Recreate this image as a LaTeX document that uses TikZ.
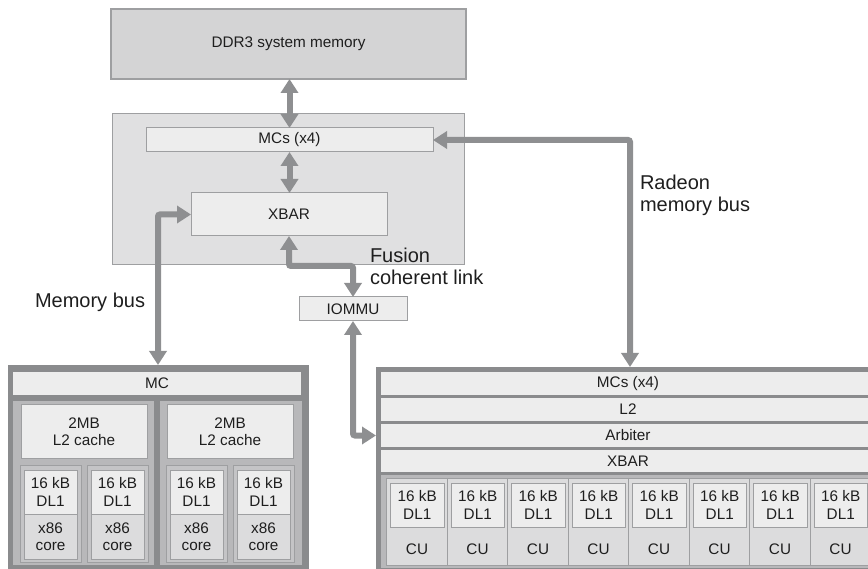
\documentclass[tikz,border=0pt]{standalone}
\usepackage{fontspec}
\setmainfont{Liberation Sans}
\usetikzlibrary{arrows.meta,calc}

\definecolor{arrowgray}{RGB}{142,143,145}
\definecolor{framegray}{RGB}{138,139,141}
\definecolor{edgegray}{RGB}{158,159,161}
\definecolor{ddrfill}{RGB}{212,212,213}
\definecolor{nbfill}{RGB}{224,224,225}
\definecolor{lightfill}{RGB}{237,237,237}
\definecolor{corefill}{RGB}{220,220,221}
\definecolor{panelfill}{RGB}{184,184,186}
\definecolor{corepanel}{RGB}{196,196,198}
\definecolor{textdark}{RGB}{30,30,30}

\newcommand\blkfont{\fontsize{15.3}{17.5}\selectfont}
\newcommand\lblfont{\fontsize{20}{22}\selectfont}
% \blk{style}{name}{x1}{y1}{x2}{y2}{text}: a box between two corners
\newcommand\blk[7]{%
  \node[#1, minimum width={(#5)-(#3)}, minimum height={(#6)-(#4)}]
    (#2) at ({((#3)+(#5))/2},{((#4)+(#6))/2}) {#7};}

\begin{document}
\begin{tikzpicture}[x=1pt,y=-1pt,
  every node/.style={text=textdark, font=\blkfont, inner sep=0pt, outer sep=0pt},
  ddr/.style={fill=ddrfill, draw=edgegray, line width=1.2pt},
  nb/.style={fill=nbfill, draw=edgegray, line width=1pt},
  lbox/.style={fill=lightfill, draw=edgegray, line width=1pt, align=center},
  bar/.style={fill=lightfill, draw=none},
  frame/.style={fill=framegray, draw=none},
  group/.style={fill=panelfill, draw=none},
  cpanel/.style={fill=corepanel, draw=edgegray, line width=1pt},
  dlbox/.style={fill=lightfill, draw=edgegray, line width=1pt, align=center},
  xcore/.style={fill=corefill, draw=edgegray, line width=1pt, align=center},
  cubox/.style={fill=corefill, draw=edgegray, line width=1pt},
  lbl/.style={font=\lblfont, anchor=base west},
  bus/.style={draw=arrowgray, line width=6pt, rounded corners=2pt,
    {Triangle[length=14pt,width=17pt]}-{Triangle[length=14pt,width=17pt]}}
]
\useasboundingbox (0,0) rectangle (868,569);

% system memory and the north-bridge block
\blk{ddr}{ddr}{111}{9}{466}{79}{DDR3 system memory}
\blk{nb}{nb}{112}{114}{464}{265}{}
\blk{lbox}{mcs}{146}{128}{433}{152}{MCs (x4)}
\blk{lbox}{xbar}{191}{193}{387}{236}{XBAR}
\blk{lbox}{iommu}{299}{297}{407}{321}{IOMMU}

% x86 CPU complex
\blk{frame}{cpu}{8}{365}{309}{572}{}
\blk{bar}{cpumc}{13}{372}{301}{395}{MC}
\blk{group}{grpA}{13}{401}{154}{565}{}
\blk{group}{grpB}{160}{401}{302}{565}{}
\blk{lbox}{l2A}{21}{405}{147}{458}{2MB\\L2 cache}
\blk{lbox}{l2B}{167}{405}{293}{458}{2MB\\L2 cache}
\foreach \x [count=\k] in {20,87,166,233}{
  \blk{cpanel}{core\k}{\x}{465}{\x+61}{562}{}
  \blk{dlbox}{cdl\k}{\x+4}{470}{\x+57}{514}{16 kB\\DL1}
  \blk{xcore}{cx\k}{\x+4}{514}{\x+57}{559}{x86\\core}
}

% Radeon GPU complex
\blk{frame}{gpu}{376}{367}{875}{572}{}
\blk{bar}{gmc}{381}{372}{875}{395}{MCs (x4)}
\blk{bar}{gl2}{381}{398}{875}{421}{L2}
\blk{bar}{garb}{381}{424}{875}{447}{Arbiter}
\blk{bar}{gxbar}{381}{450}{875}{472}{XBAR}
\blk{group}{cuarea}{381}{475}{875}{568}{}
\foreach \i in {0,...,7}{
  \pgfmathsetmacro\xa{386.5+60.5*\i}
  \blk{cubox}{cu\i}{\xa}{478}{\xa+60.5}{565}{}
  \blk{dlbox}{cudl\i}{\xa+4}{483}{\xa+57.5}{527}{16 kB\\DL1}
  \node at (\xa+30.5,549) (cul\i) {CU};
}

% bus labels
\node[lbl] (lmem) at (35,307.5) {Memory bus};
\node[lbl] (lfus1) at (370,263) {Fusion};
\node[lbl] (lfus2) at (370,285) {coherent link};
\node[lbl] (lrad1) at (640,190) {Radeon};
\node[lbl] (lrad2) at (640,212) {memory bus};

% buses
\coordinate (mbx) at (158,0);
\coordinate (rbx) at (630,0);
\draw[bus] (mcs.north |- ddr.south) -- (mcs.north);
\draw[bus] (mcs.south) -- (mcs.south |- xbar.north);
\draw[bus] (xbar.west) -| (mbx |- cpu.north);
\draw[bus] (xbar.south) -- ++(0,30) -| (iommu.north);
\draw[bus] (iommu.south) |- (gpu.west |- garb.center);
\draw[bus] (mcs.east) -| (rbx |- gpu.north);
\end{tikzpicture}
\end{document}
